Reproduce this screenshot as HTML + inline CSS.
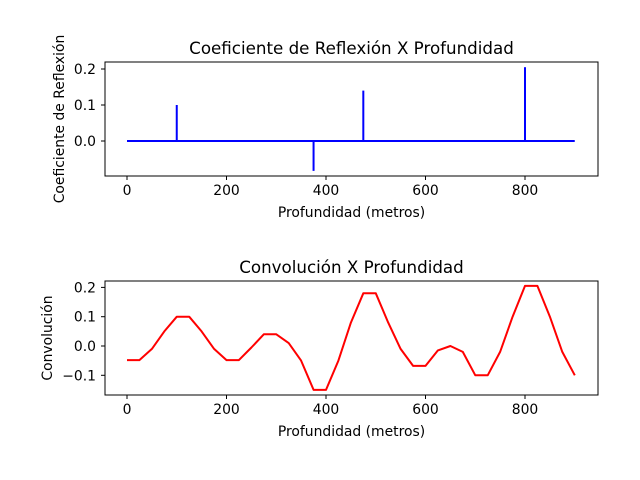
<!DOCTYPE html>
<html><head><meta charset="utf-8"><style>
body{margin:0;background:#fff}
svg{display:block;font-family:"DejaVu Sans","Liberation Sans",sans-serif}
</style></head><body>
<svg id="c" width="640" height="480" xmlns="http://www.w3.org/2000/svg"></svg>
<script>
const spikeDepths=[100,375,475,800];
const spikeValues=[0.1,-0.083,0.14,0.205];
const convDepths=[0,25,50,75,100,125,150,175,200,225,250,275,300,325,350,375,400,425,450,475,500,525,550,575,600,625,650,675,700,725,750,775,800,825,850,875,900];
const convValues=[-0.048,-0.048,-0.01,0.05,0.1,0.1,0.05,-0.01,-0.048,-0.048,-0.005,0.04,0.04,0.01,-0.05,-0.15,-0.15,-0.05,0.08,0.18,0.18,0.08,-0.01,-0.068,-0.068,-0.015,0.0,-0.02,-0.1,-0.1,-0.02,0.1,0.205,0.205,0.1,-0.02,-0.1];
const xTicks=[0,200,400,600,800];
const topYTicks=[0.0,0.1,0.2];
const botYTicks=[-0.1,0.0,0.1,0.2];
const svg=document.getElementById('c');
const NS='http://www.w3.org/2000/svg';
function mk(t,a,txt){const e=document.createElementNS(NS,t);for(const k in a)e.setAttribute(k,a[k]);if(txt!==undefined)e.textContent=txt;svg.appendChild(e);return e;}
const X=v=>127+v*0.4975;
function axes(top,bot,y0,yscale,yTicks,title,ylabel,prefix,ylx){
  const Y=v=>y0-v*yscale;
  const r=mk('rect',{x:105,y:top,width:493,height:bot-top,fill:'none',stroke:'#000','stroke-width':1});
  
  xTicks.forEach(t=>{
    const l=mk('line',{x1:X(t),x2:X(t),y1:bot,y2:bot+4,stroke:'#000'});
    
    const tx=mk('text',{x:X(t),y:bot+19,'text-anchor':'middle','font-size':13.9},String(t));
    
  });
  yTicks.forEach(t=>{
    const l=mk('line',{x1:101,x2:105,y1:Y(t),y2:Y(t),stroke:'#000'});
    
    const tx=mk('text',{x:96,y:Y(t)+5,'text-anchor':'end','font-size':13.9},(t<0?'\u2212':'')+Math.abs(t).toFixed(1));
    
  });
  const ti=mk('text',{x:351.5,y:top-8,'text-anchor':'middle','font-size':16.7},title);
  
  const xl=mk('text',{x:351.5,y:bot+41,'text-anchor':'middle','font-size':13.9},'Profundidad (metros)');
  
  const cy=(top+bot)/2;
  const yl=mk('text',{x:0,y:0,'text-anchor':'middle','font-size':13.9,transform:`translate(${ylx},${cy}) rotate(-90)`},ylabel);
  
  return Y;
}
const Yt=axes(62,176,141,360,topYTicks,'Coeficiente de Reflexión X Profundidad','Coeficiente de Reflexión','top',64);
const base=mk('line',{x1:X(0),x2:X(900),y1:Yt(0),y2:Yt(0),stroke:'#0000ff','stroke-width':2});

spikeDepths.forEach((d,i)=>{
  const l=mk('line',{x1:X(d),x2:X(d),y1:Yt(0),y2:Yt(spikeValues[i]),stroke:'#0000ff','stroke-width':2});
  
});
const Yb=axes(281,395,346,293,botYTicks,'Convolución X Profundidad','Convolución','bottom',52);
const pts=convDepths.map((d,i)=>X(d).toFixed(1)+','+Yb(convValues[i]).toFixed(1)).join(' ');
const pl=mk('polyline',{points:pts,fill:'none',stroke:'#ff0000','stroke-width':2,'stroke-linejoin':'round'});

</script>
</body></html>
